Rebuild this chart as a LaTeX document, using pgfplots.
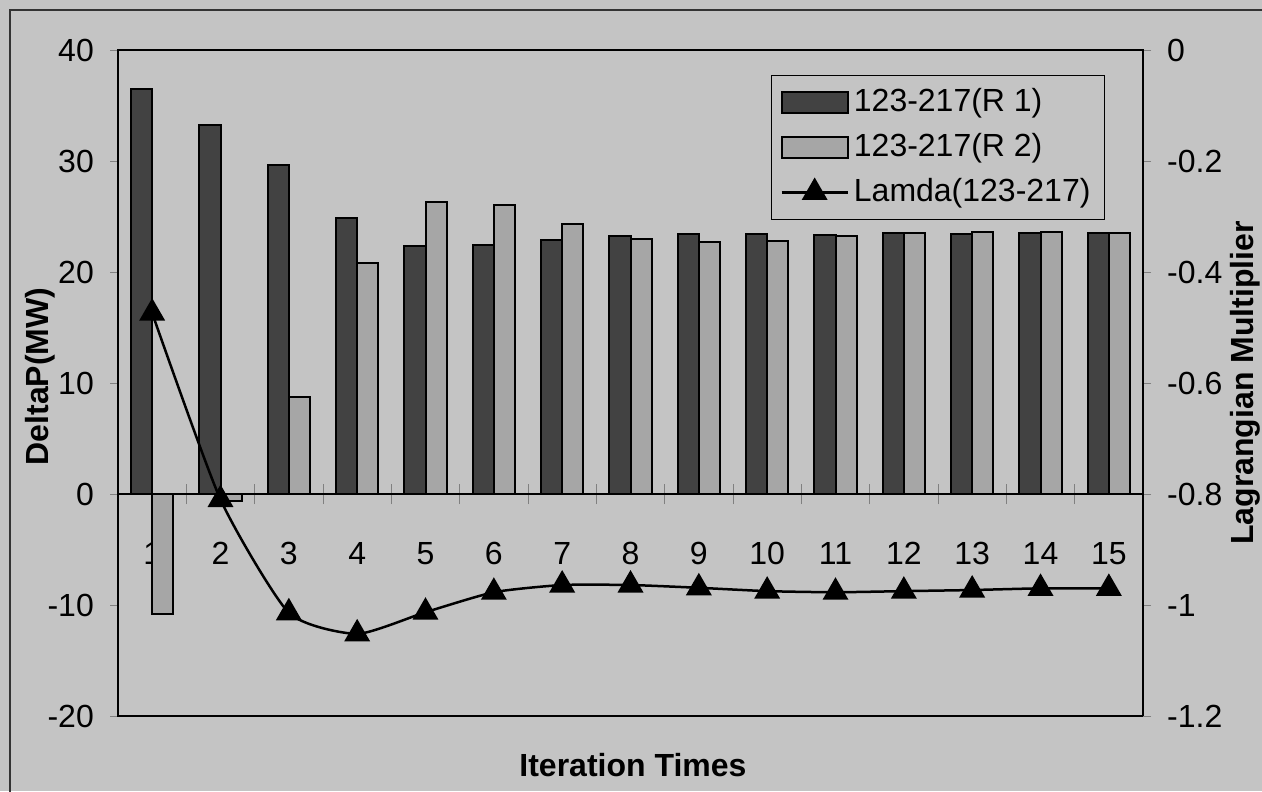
\documentclass[border=0pt]{standalone}
\usepackage{fontspec}
\setmainfont{Liberation Sans}
\usepackage{pgfplots}
\usepackage{pgfplotstable}
\pgfplotsset{compat=1.18}

\definecolor{bg}{RGB}{196,196,196}
\definecolor{darkbar}{RGB}{66,66,66}
\definecolor{lightbar}{RGB}{166,166,166}

\pgfplotsset{
  barlegend/.style={legend image code/.code={\draw[##1] (1.6pt,-4.2pt) rectangle (28pt,4.2pt);}},
  linelegend/.style={legend image code/.code={\draw[mark repeat=2,mark phase=2,##1]
      plot coordinates {(1.6pt,0pt) (14.8pt,0pt) (28pt,0pt)};}},
}

% iteration, R1 and R2 deltaP (MW), Lagrangian multiplier
\pgfplotstableread{
it r1   r2    lam
1  36.5 -10.8 -0.474
2  33.2 -0.6  -0.810
3  29.6  8.7  -1.014
4  24.9 20.8  -1.052
5  22.3 26.3  -1.013
6  22.4 26.0  -0.977
7  22.9 24.3  -0.964
8  23.2 23.0  -0.964
9  23.4 22.7  -0.969
10 23.4 22.8  -0.975
11 23.3 23.2  -0.977
12 23.5 23.5  -0.975
13 23.4 23.6  -0.973
14 23.5 23.6  -0.970
15 23.5 23.5  -0.970
}\iterdata

\begin{document}
\fontsize{12.8}{15}\selectfont
\begin{tikzpicture}
\useasboundingbox (0,0) rectangle (504.8pt,316.4pt);
\fill[bg] (0,0) rectangle (504.8pt,316.4pt);
\draw[line width=0.5pt, black!80] (4pt,-2pt) -- (4pt,312.4pt) -- (508pt,312.4pt);

\begin{axis}[
    name=bars,
    at={(47.2pt,30pt)}, anchor=south west,
    scale only axis, width=410pt, height=266.4pt,
    clip=false,
    xmin=0.5, xmax=15.5, ymin=-20, ymax=40,
    axis x line*=middle, axis y line*=left,
    x axis line style={-, line width=0.5pt},
    y axis line style={-, line width=1pt},
    xtick={1,...,15},
    xtick style={/pgfplots/major tick length=0pt},
    minor xtick={1.5,2.5,...,14.5},
    minor tick length=8pt,
    xtick align=center,
    xticklabel style={anchor=base, yshift=-26.4pt},
    ytick={-20,-10,...,40},
    ytick pos=left, ytick align=outside,
    major tick length=3.2pt,
    yticklabel style={xshift=-2pt},
    /pgf/number format/assume math mode=true,
    xlabel={Iteration Times},
    xlabel style={at={(axis description cs:0.5024,-0.0736)}, anchor=center, font=\bfseries},
    ylabel={DeltaP(MW)},
    ylabel style={at={(axis description cs:-0.0761,0.51)}, anchor=center, font=\bfseries},
]
\addplot[ybar, bar width=0.31, bar shift=-0.155, fill=darkbar, draw=black, line width=0.8pt]
    table[x=it, y=r1] {\iterdata};
\addplot[ybar, bar width=0.31, bar shift=0.155, fill=lightbar, draw=black, line width=0.8pt]
    table[x=it, y=r2] {\iterdata};
\draw[line width=1pt] (rel axis cs:0,0) rectangle (rel axis cs:1,1);
\end{axis}

\begin{axis}[
    at={(bars.south west)}, anchor=south west,
    scale only axis, width=410pt, height=266.4pt,
    clip=false,
    xmin=0.5, xmax=15.5, ymin=-1.2, ymax=0,
    axis x line=none, axis y line*=right,
    y axis line style={-, line width=1pt},
    ytick={-1.2,-1,-0.8,-0.6,-0.4,-0.2,0},
    ytick pos=right, ytick align=outside,
    major tick length=3.2pt,
    yticklabel={\pgfmathprintnumber[fixed,precision=1]{\tick}},
    yticklabel style={xshift=2pt},
    /pgf/number format/assume math mode=true,
    ylabel={Lagrangian Multiplier},
    ylabel style={at={(axis description cs:1.0995,0.5)}, anchor=center, font=\bfseries},
    legend cell align=left,
    legend style={at={(axis description cs:1,1)}, anchor=north east,
        xshift=-15.2pt, yshift=-10pt, fill=none, draw=black, line width=0.4pt,
        row sep=2.8pt, inner xsep=3.6pt, inner ysep=3.2pt, nodes={inner sep=2pt}},
]
\addlegendimage{fill=darkbar, draw=black, line width=0.8pt, barlegend}
\addlegendentry{123-217(R 1)}
\addlegendimage{fill=lightbar, draw=black, line width=0.8pt, barlegend}
\addlegendentry{123-217(R 2)}
\addplot[black, line width=1pt, smooth, tension=0.35, mark=triangle*, mark size=5pt, linelegend]
    table[x=it, y=lam] {\iterdata};
\addlegendentry{Lamda(123-217)}
\end{axis}
\end{tikzpicture}
\end{document}
